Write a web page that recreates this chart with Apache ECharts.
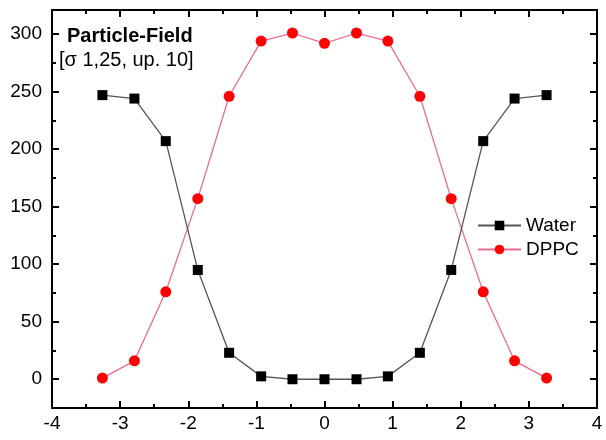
<!DOCTYPE html>
<html>
<head>
<meta charset="utf-8">
<script src="https://cdn.jsdelivr.net/npm/echarts@6/dist/echarts.min.js"></script>
<style>
html,body{margin:0;padding:0;background:#fff;}
#chart{width:606px;height:440px;}
</style>
</head>
<body>
<div id="chart"></div>
<script>
// ---- data ----
const xValues = [-3.26, -2.79, -2.33, -1.86, -1.40, -0.93, -0.47, 0, 0.47, 0.93, 1.40, 1.86, 2.33, 2.79, 3.26];
const waterValues = [247, 244, 207, 95, 23, 2.5, 0, 0, 0, 2.5, 23, 95, 207, 244, 247];
const dppcValues = [1, 16, 76, 157, 246, 294, 301, 292, 301, 294, 246, 157, 76, 16, 1];
const yMajorTicks = [0, 50, 100, 150, 200, 250, 300];
const yMinorTicks = [25, 75, 125, 175, 225, 275];
const seriesNames = ['Water', 'DPPC'];
const titleLine1 = 'Particle-Field';
const titleLine2 = '[σ 1,25, up. 10]';

const FONT = 'Liberation Sans, Arial, sans-serif';
const yMin = -25, yMax = 321;

function pairs(xs, ys) { return xs.map((x, i) => [x, ys[i]]); }

const lineStyleAxis = { color: '#000', width: 2 };

function yAxisDef(pos, ticks, len, showLabel, showLine) {
  return {
    type: 'value', position: pos, min: yMin, max: yMax,
    axisLine: { show: showLine, onZero: false, lineStyle: lineStyleAxis },
    splitLine: { show: false },
    axisTick: { show: true, inside: true, length: len, customValues: ticks, lineStyle: { color: '#000', width: 2 } },
    axisLabel: showLabel ? { show: true, customValues: ticks, color: '#000', fontFamily: FONT, fontSize: 19, margin: 10 } : { show: false }
  };
}
function xAxisDef(pos, showLabel) {
  return {
    type: 'value', position: pos, min: -4, max: 4, interval: 1,
    axisLine: { show: true, onZero: false, lineStyle: lineStyleAxis },
    splitLine: { show: false },
    axisTick: { show: true, inside: true, length: 7, lineStyle: { color: '#000', width: 2 } },
    minorTick: { show: true, splitNumber: 2, length: 4, lineStyle: { color: '#000', width: 2 } },
    axisLabel: showLabel ? { show: true, color: '#000', fontFamily: FONT, fontSize: 19, margin: 6 } : { show: false }
  };
}

const chart = echarts.init(document.getElementById('chart'), null, { renderer: 'canvas' });
chart.setOption({
  animation: false,
  backgroundColor: '#fff',
  grid: { left: 52, right: 9, top: 10, bottom: 32, containLabel: false },
  title: [
    { text: titleLine1, left: 62, top: 21, textStyle: { fontFamily: FONT, fontSize: 20, fontWeight: 'bold', color: '#000' } },
    { text: titleLine2, left: 54, top: 45, textStyle: { fontFamily: FONT, fontSize: 20, fontWeight: 'normal', color: '#000' } }
  ],
  legend: {
    orient: 'vertical', left: 477, top: 216,
    itemWidth: 43, itemHeight: 12, itemGap: 5, padding: 0,
    textStyle: { fontFamily: FONT, fontSize: 19, color: '#000' },
    data: seriesNames
  },
  xAxis: [xAxisDef('bottom', true), xAxisDef('top', false)],
  yAxis: [
    yAxisDef('left', yMajorTicks, 7, true, true),
    yAxisDef('left', yMinorTicks, 4, false, false),
    yAxisDef('right', yMajorTicks, 7, false, true),
    yAxisDef('right', yMinorTicks, 4, false, false)
  ],
  series: [
    {
      name: seriesNames[0], type: 'line', xAxisIndex: 0, yAxisIndex: 0,
      data: pairs(xValues, waterValues),
      symbol: 'rect', symbolSize: 10,
      itemStyle: { color: '#000' },
      lineStyle: { color: '#555', width: 1.3 },
      z: 3
    },
    {
      name: seriesNames[1], type: 'line', xAxisIndex: 0, yAxisIndex: 0,
      data: pairs(xValues, dppcValues),
      symbol: 'circle', symbolSize: 11,
      itemStyle: { color: '#f00' },
      lineStyle: { color: '#ee6a92', width: 1.3 },
      z: 2
    }
  ]
});
</script>
</body>
</html>
